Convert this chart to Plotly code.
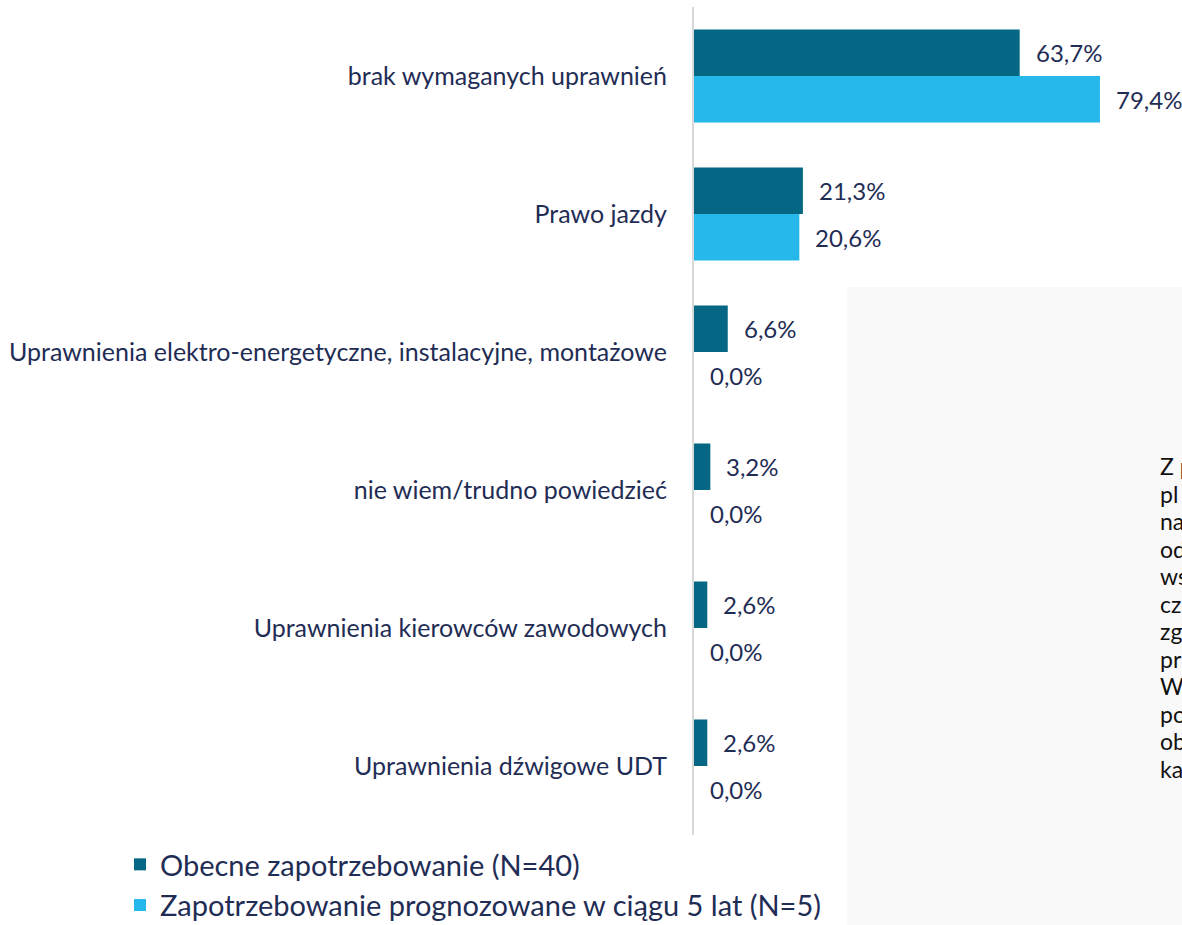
import plotly.graph_objects as go

categories = [
    "brak wymaganych uprawnień",
    "Prawo jazdy",
    "Uprawnienia elektro-energetyczne, instalacyjne, montażowe",
    "nie wiem/trudno powiedzieć",
    "Uprawnienia kierowców zawodowych",
    "Uprawnienia dźwigowe UDT",
]
obecne = [63.7, 21.3, 6.6, 3.2, 2.6, 2.6]
prognoza = [79.4, 20.6, 0.0, 0.0, 0.0, 0.0]
series_names = ["Obecne zapotrzebowanie (N=40)", "Zapotrzebowanie prognozowane w ciągu 5 lat (N=5)"]
side_text_lines = ["Z p", "pl", "na", "od", "ws", "cz", "zg", "pr", "W", "po", "ob", "ka"]

DARK = "#066784"
LIGHT = "#27b8eb"
NAVY = "#1f2d55"
FONT = "Lato"

W, H = 1182, 925
left, top, bottom = 694, 7, 90
plot_w = W - left
plot_h = H - top - bottom
px_per_unit = 5.113
x_max = plot_w / px_per_unit

fig = go.Figure()
fig.add_trace(go.Bar(y=categories, x=obecne, orientation="h", name=series_names[0],
                     marker=dict(color=DARK, line=dict(width=0))))
fig.add_trace(go.Bar(y=categories, x=prognoza, orientation="h", name=series_names[1],
                     marker=dict(color=LIGHT, line=dict(width=0))))

def fmt(v):
    return f"{v:.1f}".replace(".", ",") + "%"

band = plot_h / len(categories)
off = band * (1 - 0.326) / 4
for cat, a, b in zip(categories, obecne, prognoza):
    fig.add_annotation(x=a, y=cat, text=fmt(a), showarrow=False, xanchor="left",
                       xshift=14, yshift=off, font=dict(family=FONT, size=24, color=NAVY))
    fig.add_annotation(x=b, y=cat, text=fmt(b), showarrow=False, xanchor="left",
                       xshift=14, yshift=-off, font=dict(family=FONT, size=24, color=NAVY))

# side panel (slide background element)
fig.add_shape(type="rect", xref="paper", yref="paper", x0=(847 - left) / plot_w, x1=1.0,
              y0=-bottom / plot_h, y1=(H - bottom - 287) / plot_h,
              fillcolor="#f9f9fa", line=dict(width=0), layer="below")
for i, line in enumerate(side_text_lines):
    yc = 466 + i * 27.5
    fig.add_annotation(xref="paper", yref="paper", x=(1158 - left) / plot_w,
                       y=(H - bottom - yc) / plot_h, xanchor="left", yanchor="middle",
                       text=line, showarrow=False,
                       font=dict(family=FONT, size=23, color="#111111"))

fig.update_layout(
    width=W, height=H,
    margin=dict(l=left, r=0, t=top, b=bottom, autoexpand=False),
    paper_bgcolor="white", plot_bgcolor="rgba(0,0,0,0)",
    barmode="group", bargap=0.326, bargroupgap=0,
    showlegend=True,
    legend=dict(xref="container", yref="container", x=120 / W, y=1 - 839 / H,
                xanchor="left", yanchor="top", orientation="v",
                font=dict(family=FONT, size=29, color=NAVY), tracegroupgap=0,
                bgcolor="rgba(0,0,0,0)"),
    font=dict(family=FONT, color=NAVY),
)
fig.update_xaxes(range=[0, x_max], visible=False, showgrid=False, zeroline=False)
fig.update_yaxes(autorange="reversed", showgrid=False, zeroline=False, automargin=False,
                 showline=True, linecolor="#d9d9d9", linewidth=2,
                 ticks="", ticklabelstandoff=20,
                 tickfont=dict(family=FONT, size=25, color=NAVY))

fig.write_html("out.html", config={"displayModeBar": False},
               post_script="document.body.style.margin='0';document.body.style.overflow='hidden';")
